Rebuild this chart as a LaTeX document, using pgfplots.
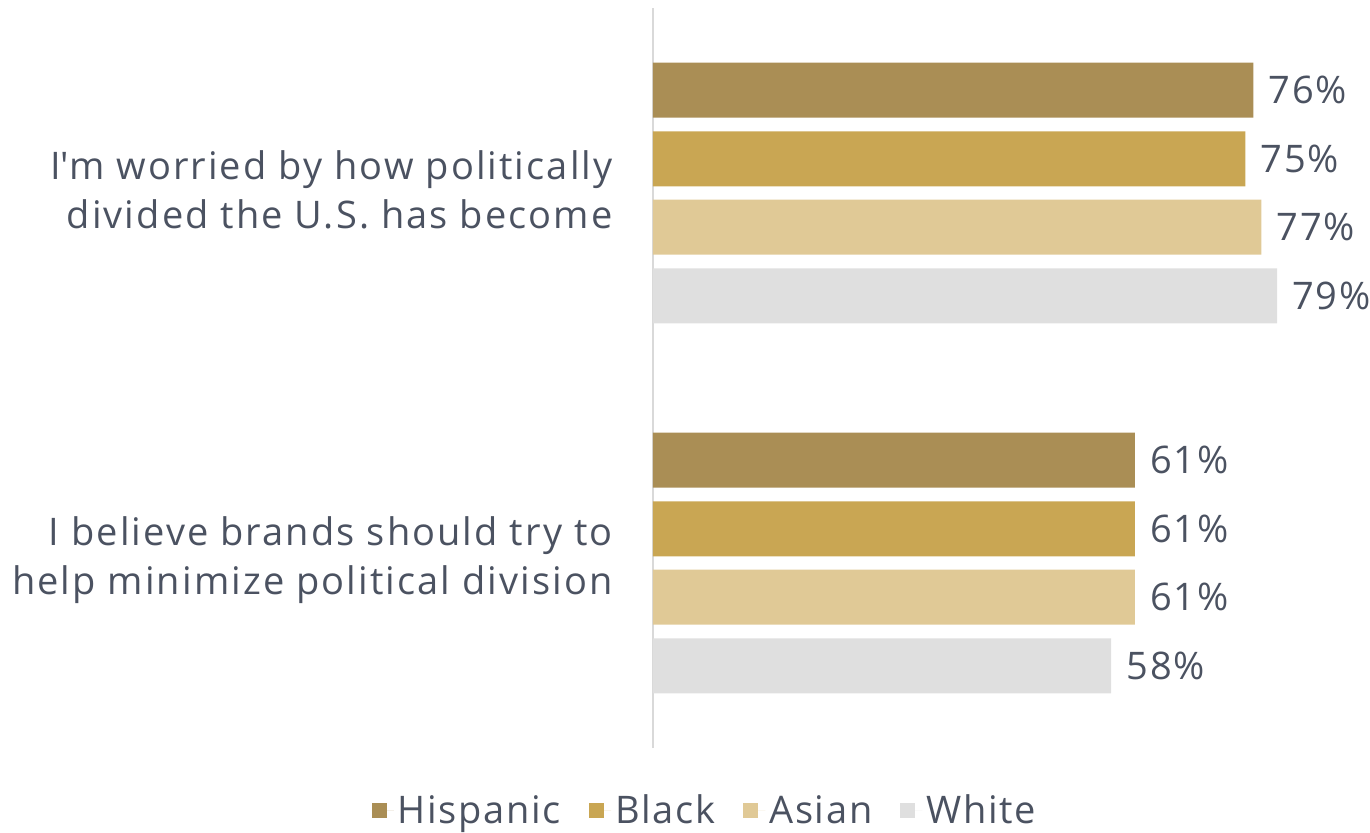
\documentclass[border=0pt]{standalone}
\usepackage{pgfplots}
\pgfplotsset{compat=1.18}
\usepackage{fontspec}
\setmainfont{Open Sans}
\newfontfamily\widefont[LetterSpace=4.5]{Open Sans}
\newfontfamily\widerfont[LetterSpace=5.5]{Open Sans}
\definecolor{hisp}{HTML}{AA8E55}
\definecolor{blk}{HTML}{C9A653}
\definecolor{asn}{HTML}{E0C996}
\definecolor{wht}{HTML}{DFDFDF}
\definecolor{txt}{HTML}{4B5261}
\definecolor{axl}{HTML}{D9D9D9}
\begin{document}
\begin{tikzpicture}
\useasboundingbox (-326.5pt,-42pt) rectangle (358.5pt,374pt);
\begin{axis}[
  at={(0pt,0pt)}, anchor=south west,
  scale only axis,
  width=355.5pt, height=370pt,
  xmin=0, xmax=90, ymin=-0.5, ymax=1.5,
  axis x line=none,
  axis y line*=left,
  y axis line style={draw=axl, line width=1pt, -},
  ytick={0,1},
  yticklabels={{I believe brands should try to\\help minimize political division},{I\textquotesingle m worried by how politically\\divided the U.S. has become}},
  major tick length=0pt,
  yticklabel style={align=right, font=\widerfont\fontsize{19pt}{24.5pt}\selectfont, text=txt, inner sep=0pt, xshift=-20pt, yshift=1.5pt},
  xbar, bar width=27.5pt,
  /pgf/number format/assume math mode=true,
  point meta=x,
  nodes near coords={\pgfmathprintnumber{\pgfplotspointmeta}\%},
  every node near coord/.append style={anchor=west, inner sep=0pt, xshift=7.5pt, font=\widefont\fontsize{19pt}{23pt}\selectfont, text=txt},
  legend columns=4,
  legend style={draw=none, at={(rel axis cs:0.0745,-0.085)}, anchor=center, font=\widefont\fontsize{19pt}{23pt}\selectfont, text=txt,
    /tikz/every even column/.append style={column sep=12pt}},
  legend image code/.code={\fill[#1] (0pt,-3.75pt) rectangle (7.5pt,3.75pt); \path (0pt,0pt) -- (11pt,0pt);},
]
\addplot[fill=hisp, draw=none, bar shift=51.4pt] coordinates {(76,1) (61,0)};
\addplot[fill=blk, draw=none, bar shift=17.1pt] coordinates {(75,1) (61,0)};
\addplot[fill=asn, draw=none, bar shift=-17.1pt] coordinates {(77,1) (61,0)};
\addplot[fill=wht, draw=none, bar shift=-51.4pt] coordinates {(79,1) (58,0)};
\legend{Hispanic,Black,Asian,White}
\end{axis}
\end{tikzpicture}
\end{document}
